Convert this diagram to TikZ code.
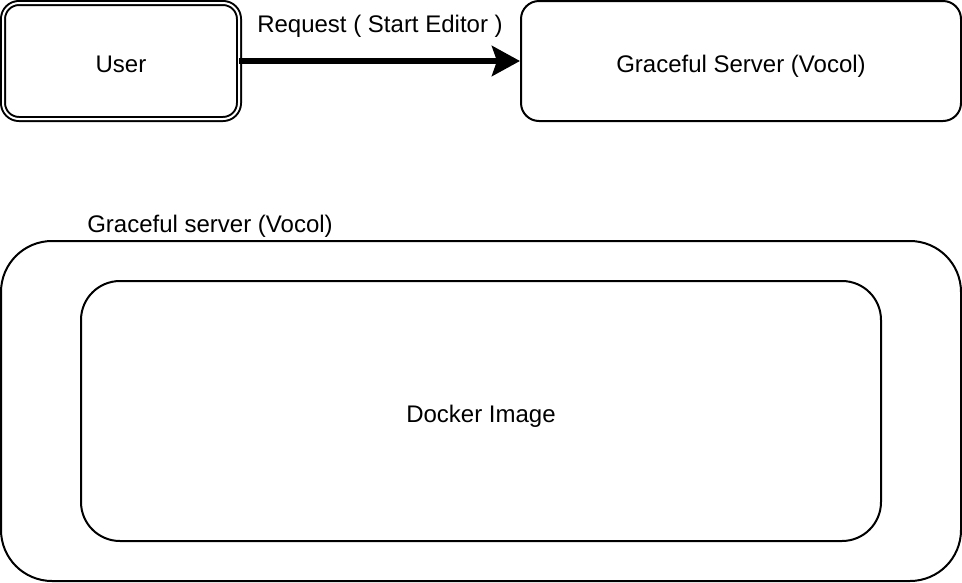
\documentclass[tikz,border=0pt]{standalone}
\usepackage{fontspec}
\setmainfont{Liberation Sans}
\usetikzlibrary{arrows.meta}
\begin{document}
\begin{tikzpicture}[x=1pt,y=-1pt,
  txt/.style={font=\fontsize{24}{28}\selectfont},
  box/.style={txt,draw=black,line width=2pt,inner sep=0pt,text height=22pt,text depth=0pt},
  lbl/.style={txt,inner sep=0pt,anchor=base},
  conn/.style={line width=6pt,-{Stealth[length=28pt,width=30pt,inset=5pt]}}]
\useasboundingbox (0,0) rectangle (962,582);
% container and inner box
\node[box,rounded corners=51pt,minimum width=960pt,minimum height=340pt] (cont) at (481,411) {};
\node[box,rounded corners=39pt,minimum width=800pt,minimum height=260pt] (docker) at (481,411) {Docker Image};
\node[lbl] (contlbl) at (210,232) {Graceful server (Vocol)};
% User (double border)
\node[box,double,double distance=2pt,rounded corners=16pt,minimum width=236pt,minimum height=116pt] (user) at (121,61) {User};
% Graceful Server
\node[box,rounded corners=18pt,minimum width=440pt,minimum height=120pt] (gs) at (741,61) {Graceful Server (Vocol)};
% arrow
\draw[conn,shorten <=-1pt] (user.east) -- (gs.west)
  node[lbl,midway,yshift=29pt] (req) {Request ( Start Editor )};
\end{tikzpicture}
\end{document}
